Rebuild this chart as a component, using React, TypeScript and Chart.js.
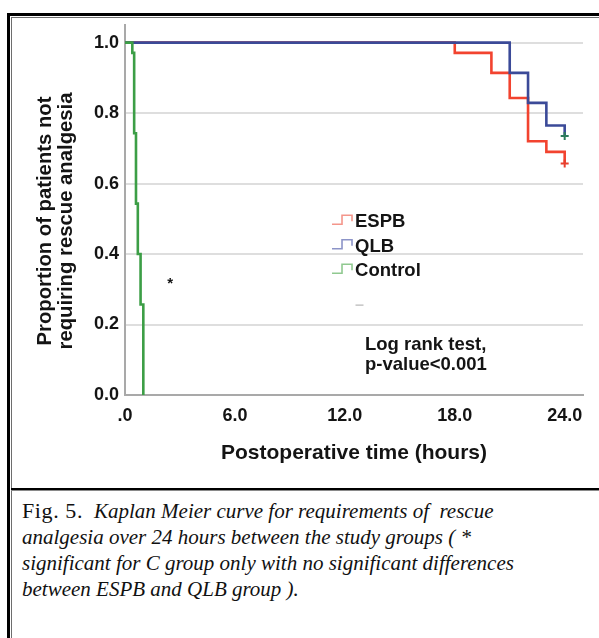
import React, { useEffect, useRef } from "react";
import { Chart, registerables } from "chart.js";

Chart.register(...registerables);

// ---------- data ----------
const GROUPS = ["ESPB", "QLB", "Control"];
const ESPB_TIME = [0, 18, 20, 21, 22, 23, 24];
const ESPB_SURV = [1.0, 0.971, 0.914, 0.843, 0.72, 0.69, 0.657];
const QLB_TIME = [0, 21, 22, 23, 24];
const QLB_SURV = [1.0, 0.914, 0.829, 0.765, 0.735];
const CONTROL_TIME = [0, 0.4, 0.5, 0.6, 0.7, 0.85, 1.0];
const CONTROL_SURV = [1.0, 0.971, 0.743, 0.543, 0.4, 0.257, 0.0];

const X_TICKS = [0, 6, 12, 18, 24];
const X_TICK_LABELS = [".0", "6.0", "12.0", "18.0", "24.0"];
const Y_TICKS = [0, 0.2, 0.4, 0.6, 0.8, 1.0];
const Y_TICK_LABELS = ["0.0", "0.2", "0.4", "0.6", "0.8", "1.0"];

const X_TITLE = "Postoperative time (hours)";
const Y_TITLE = ["Proportion of patients not", "requiring rescue analgesia"];
const TEST_LINES = ["Log rank test,", "p-value<0.001"];
const STAR_TEXT = "*";

const CAPTION_LABEL = "Fig. 5.";
const CAPTION_LINES = [
  "Kaplan Meier curve for requirements of\u00a0 rescue",
  "analgesia over 24 hours between the study groups ( *",
  "significant for C group only with no significant differences",
  "between ESPB and QLB group ).",
];

// ---------- styles ----------
const SANS = "'Liberation Sans', Arial, Helvetica, sans-serif";
const LINE_COLORS = ["#f2432f", "#3b4a98", "#3c9e46"];
const LEGEND_COLORS = ["#f4968b", "#8c94c8", "#90c990"];
const CENSOR_COLORS = ["#e8402f", "#2d7c5c"];
const TEXT = "#141414";

const toPoints = (t: number[], s: number[]) => t.map((x, i) => ({ x, y: s[i] }));

const overlayPlugin = {
  id: "overlay",
  afterDraw(chart: any) {
    const { ctx, scales } = chart;
    const xs = scales.x;
    const ys = scales.y;
    ctx.save();
    ctx.fillStyle = TEXT;

    // y-axis title (two rotated lines)
    ctx.font = `bold 20.3px ${SANS}`;
    ctx.textAlign = "center";
    ctx.textBaseline = "middle";
    Y_TITLE.forEach((line, i) => {
      ctx.save();
      ctx.translate(32 + i * 21, 202);
      ctx.rotate(-Math.PI / 2);
      ctx.fillText(line, 0, 0);
      ctx.restore();
    });

    // legend inside the plot
    const lx = xs.getPixelForValue(11.3);
    const ly = ys.getPixelForValue(0.496);
    ctx.font = `bold 18.5px ${SANS}`;
    ctx.textAlign = "left";
    GROUPS.forEach((g, i) => {
      const cy = ly + i * 24.5;
      ctx.strokeStyle = LEGEND_COLORS[i];
      ctx.lineWidth = 1.6;
      ctx.beginPath();
      ctx.moveTo(lx, cy + 4);
      ctx.lineTo(lx + 10, cy + 4);
      ctx.lineTo(lx + 10, cy - 5);
      ctx.lineTo(lx + 20, cy - 5);
      ctx.lineTo(lx + 20, cy + 1);
      ctx.stroke();
      ctx.fillStyle = TEXT;
      ctx.fillText(g, lx + 23, cy + 2);
    });

    // star
    ctx.font = `bold 15px ${SANS}`;
    ctx.textAlign = "center";
    ctx.fillText(STAR_TEXT, xs.getPixelForValue(2.46), ys.getPixelForValue(0.315));

    // faint dash
    ctx.strokeStyle = "#c4c4c4";
    ctx.lineWidth = 1.5;
    ctx.beginPath();
    const dx = xs.getPixelForValue(12.8);
    const dy = ys.getPixelForValue(0.255);
    ctx.moveTo(dx - 4, dy);
    ctx.lineTo(dx + 4, dy);
    ctx.stroke();

    // log rank text
    ctx.fillStyle = TEXT;
    ctx.font = `bold 18.5px ${SANS}`;
    ctx.textAlign = "left";
    const tx = xs.getPixelForValue(13.1);
    TEST_LINES.forEach((line, i) => {
      ctx.fillText(line, tx, ys.getPixelForValue(0.142) + i * 20);
    });
    ctx.restore();
  },
};

function KMChart() {
  const ref = useRef<HTMLCanvasElement | null>(null);
  useEffect(() => {
    if (!ref.current) return;
    const lastE = ESPB_TIME.length - 1;
    const lastQ = QLB_TIME.length - 1;
    const chart = new Chart(ref.current, {
      type: "line",
      data: {
        datasets: [
          {
            label: GROUPS[0],
            data: toPoints(ESPB_TIME, ESPB_SURV),
            borderColor: LINE_COLORS[0],
            borderWidth: 2.6,
            stepped: true,
            pointRadius: 0,
            fill: false,
            order: 2,
          },
          {
            label: GROUPS[1],
            data: toPoints(QLB_TIME, QLB_SURV),
            borderColor: LINE_COLORS[1],
            borderWidth: 2.6,
            stepped: true,
            pointRadius: 0,
            fill: false,
            order: 1,
          },
          {
            label: GROUPS[2],
            data: toPoints(CONTROL_TIME, CONTROL_SURV),
            borderColor: LINE_COLORS[2],
            borderWidth: 2.6,
            stepped: true,
            pointRadius: 0,
            fill: false,
            order: 0,
          },
          {
            label: GROUPS[0] + " censored",
            data: [{ x: ESPB_TIME[lastE], y: ESPB_SURV[lastE] }],
            showLine: false,
            pointStyle: "cross",
            pointRadius: 4,
            borderWidth: 2,
            borderColor: CENSOR_COLORS[0],
            order: -1,
          },
          {
            label: GROUPS[1] + " censored",
            data: [{ x: QLB_TIME[lastQ], y: QLB_SURV[lastQ] }],
            showLine: false,
            pointStyle: "cross",
            pointRadius: 4,
            borderWidth: 2,
            borderColor: CENSOR_COLORS[1],
            order: -1,
          },
        ],
      },
      options: {
        animation: false,
        responsive: false,
        maintainAspectRatio: false,
        events: [],
        layout: { padding: { top: 5.4, right: 16, left: 0, bottom: 0 } },
        plugins: { legend: { display: false }, tooltip: { enabled: false } },
        scales: {
          x: {
            type: "linear",
            min: 0,
            max: 25,
            afterFit: (s: any) => {
              s.height = 92;
              s.paddingLeft = 0;
              s.paddingRight = 0;
            },
            afterBuildTicks: (s: any) => {
              s.ticks = X_TICKS.map((v) => ({ value: v }));
            },
            ticks: {
              autoSkip: false,
              maxRotation: 0,
              padding: 10,
              color: TEXT,
              font: { family: SANS, size: 18, weight: "bold" },
              callback: (_v: any, i: number) => X_TICK_LABELS[i],
            },
            grid: { display: false, drawTicks: false },
            border: { display: true, color: "#a9a9a9", width: 2 },
            title: {
              display: true,
              text: X_TITLE,
              color: TEXT,
              font: { family: SANS, size: 21, weight: "bold" },
              padding: { top: 0, bottom: 21 },
            },
          },
          y: {
            type: "linear",
            min: 0,
            max: 1.05,
            afterFit: (s: any) => {
              s.width = 112;
              s.paddingTop = 0;
              s.paddingBottom = 0;
            },
            afterBuildTicks: (s: any) => {
              s.ticks = Y_TICKS.map((v) => ({ value: v }));
            },
            ticks: {
              padding: 6,
              color: TEXT,
              font: { family: SANS, size: 18, weight: "bold" },
              callback: (_v: any, i: number) => Y_TICK_LABELS[i],
            },
            grid: {
              drawTicks: false,
              lineWidth: 2,
              color: (c: any) => (c.tick && c.tick.value === 0 ? "rgba(0,0,0,0)" : "#dedede"),
            },
            border: { display: true, color: "#a9a9a9", width: 2 },
          },
        },
      },
      plugins: [overlayPlugin],
    } as any);
    return () => chart.destroy();
  }, []);
  return (
    <canvas
      ref={ref}
      width={586}
      height={468}
      style={{ position: "absolute", left: 13, top: 19, width: 586, height: 468 }}
    />
  );
}

export default function App() {
  const abs = (s: React.CSSProperties): React.CSSProperties => ({ position: "absolute", ...s });
  return (
    <div style={abs({ left: 0, top: 0, width: 599, height: 638, background: "#fff", overflow: "hidden" })}>
      {/* frame */}
      <div style={abs({ left: 7, top: 13, width: 600, height: 3, background: "#000" })} />
      <div style={abs({ left: 7, top: 13, width: 3, height: 640, background: "#000" })} />
      <div style={abs({ left: 11, top: 17, width: 600, height: 1, background: "#6e6e6e" })} />
      <div style={abs({ left: 11, top: 17, width: 1, height: 640, background: "#6e6e6e" })} />
      <div style={abs({ left: 11, top: 488, width: 600, height: 2, background: "#000" })} />
      <div style={abs({ left: 11, top: 490, width: 600, height: 1, background: "#8a8a8a" })} />
      <KMChart />
      <div
        style={abs({
          left: 22,
          top: 498,
          fontFamily: "'Liberation Serif', 'Times New Roman', serif",
          fontSize: 21,
          lineHeight: "26px",
          color: "#111",
          whiteSpace: "nowrap",
        })}
      >
        {CAPTION_LINES.map((line, i) => (
          <div key={i}>
            {i === 0 ? (
              <span style={{ display: "inline-block", width: 72, fontSize: 22, letterSpacing: 0.6 }}>
                {CAPTION_LABEL}
              </span>
            ) : null}
            <i>{line}</i>
          </div>
        ))}
      </div>
    </div>
  );
}
